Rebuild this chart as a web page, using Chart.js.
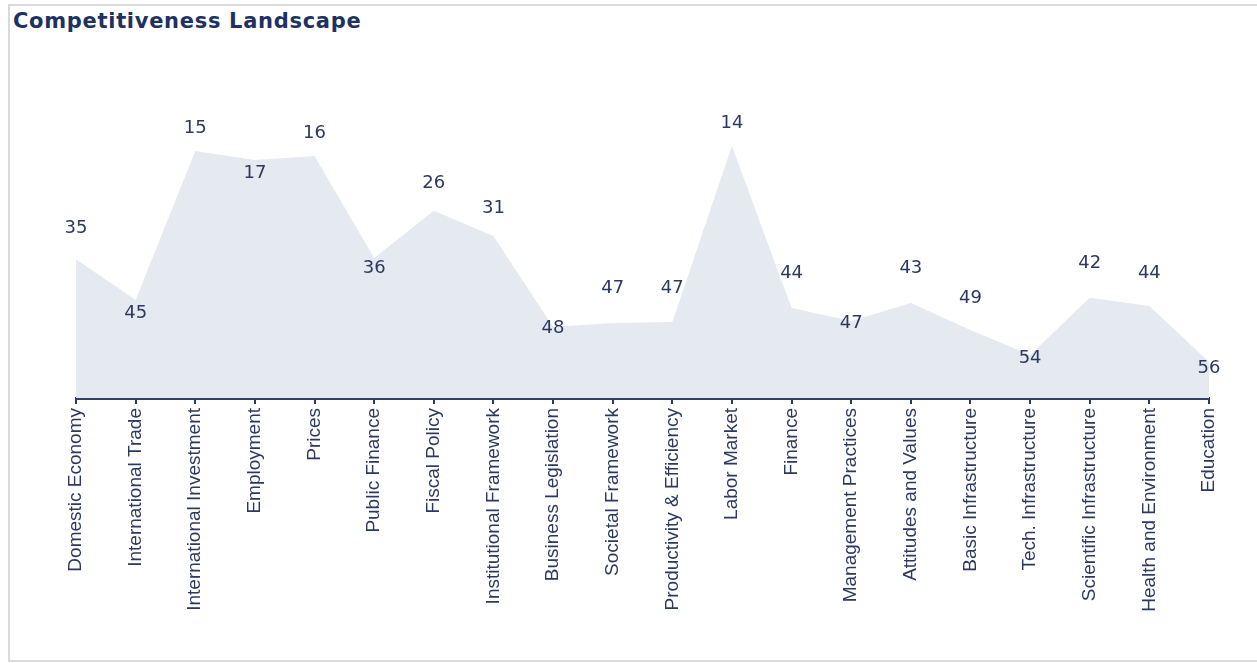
<!DOCTYPE html>
<html>
<head>
<meta charset="utf-8">
<script src="https://cdn.jsdelivr.net/npm/chart.js@4"></script>
<style>
  html, body { margin: 0; padding: 0; background: #ffffff; overflow: hidden; }
  #frame { position: absolute; left: 8px; top: 4px; width: 1300px; height: 654px;
           border-left: 2px solid #dadada; border-top: 2px solid #dadada; border-bottom: 2px solid #dadada; }
  #title { position: absolute; left: 13px; top: 9px; margin: 0;
           font-family: "DejaVu Sans", Verdana, sans-serif; font-weight: bold; font-size: 21px;
           color: #1d3163; letter-spacing: 0.7px; }
  #wrap { position: absolute; left: 0; top: 0; width: 1257px; height: 663px; }
</style>
</head>
<body>
<div id="frame"></div>
<h1 id="title">Competitiveness Landscape</h1>
<div id="wrap"><canvas id="c" width="1257" height="663"></canvas></div>
<script>
// ---- data ----
const categories = ["Domestic Economy","International Trade","International Investment","Employment","Prices",
  "Public Finance","Fiscal Policy","Institutional Framework","Business Legislation","Societal Framework",
  "Productivity & Efficiency","Labor Market","Finance","Management Practices","Attitudes and Values",
  "Basic Infrastructure","Tech. Infrastructure","Scientific Infrastructure","Health and Environment","Education"];
// rank shown as the label of each point
const ranks = [35,45,15,17,16,36,26,31,48,47,47,14,44,47,43,49,54,42,44,56];
// plotted area height (estimated score, 0-100)
const scores = [46.6,32.9,82.9,79.9,81.2,47.0,62.8,54.4,23.8,25.2,25.5,84.6,30.2,25.8,31.9,22.8,14.4,33.6,30.9,12.1];

const navy = '#2b3960';

const rankLabels = {
  id: 'rankLabels',
  afterDatasetsDraw(chart) {
    const ctx = chart.ctx;
    const xs = chart.scales.x, rs = chart.scales.rank;
    ctx.save();
    ctx.font = '18px "DejaVu Sans", Verdana, sans-serif';
    ctx.fillStyle = navy;
    ctx.textAlign = 'center';
    ctx.textBaseline = 'middle';
    for (let i = 0; i < ranks.length; i++) {
      const prev = i > 0 ? scores[i - 1] : Infinity;
      const next = i < scores.length - 1 ? scores[i + 1] : Infinity;
      const below = scores[i] < prev && scores[i] < next;
      const x = xs.getPixelForValue(i);
      const y = rs.getPixelForValue(ranks[i]) + (below ? 35 : 0);
      ctx.fillText(String(ranks[i]), x, y);
    }
    ctx.restore();
  }
};

new Chart(document.getElementById('c'), {
  type: 'line',
  data: {
    labels: categories,
    datasets: [{
      data: scores,
      fill: 'origin',
      backgroundColor: '#e5e9f0',
      borderWidth: 0,
      borderColor: 'rgba(0,0,0,0)',
      pointRadius: 0,
      pointHoverRadius: 0,
      tension: 0
    }]
  },
  options: {
    responsive: false,
    animation: false,
    events: [],
    layout: { padding: { left: 76, right: 48, top: 100, bottom: 0 } },
    plugins: { legend: { display: false }, tooltip: { enabled: false }, title: { display: false } },
    scales: {
      x: {
        type: 'category',
        offset: false,
        afterFit(scale) { scale.height = 265; },
        grid: { drawOnChartArea: false, drawTicks: true, tickLength: 6, color: navy, lineWidth: 2 },
        border: { display: true, color: '#34406a', width: 3 },
        ticks: {
          autoSkip: false, maxRotation: 90, minRotation: 90, padding: 4,
          color: navy,
          font: { family: '"Liberation Sans", Arial, sans-serif', size: 19 }
        }
      },
      y: { display: false, min: 0, max: 100 },
      rank: { axis: 'y', type: 'linear', position: 'left', display: false, reverse: true, min: 9.4, max: 69 }
    }
  },
  plugins: [rankLabels]
});
</script>
</body>
</html>
